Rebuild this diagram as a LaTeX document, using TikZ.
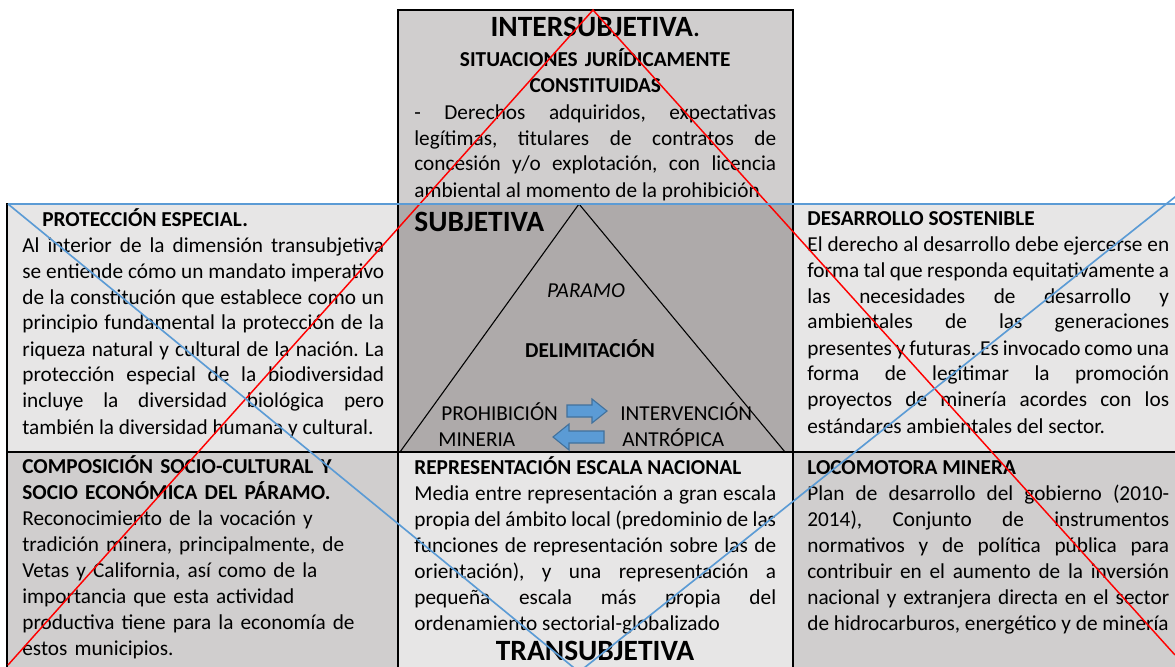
\documentclass[tikz,border=0pt]{standalone}
\usepackage{fontspec}
\setmainfont{Carlito}
\usepackage{tikz}
\frenchspacing
\definecolor{boxgray}{HTML}{D0CECE}
\definecolor{boxlight}{HTML}{E7E6E6}
\definecolor{boxdark}{HTML}{AEAAAA}
\definecolor{lineblue}{HTML}{5B9BD5}
\definecolor{arrowedge}{HTML}{41719C}
\newcommand{\bodytext}{\fontsize{11.7pt}{14.3pt}\selectfont}
\newcommand{\bigtext}{\fontsize{16.2pt}{19pt}\selectfont}
\tikzstyle{cell}=[draw=black,line width=1.1pt]
\tikzstyle{boxtext}=[anchor=base west,inner sep=0pt,text width=199pt,align=justify,font=\bodytext]
\tikzstyle{bigtitle}=[anchor=base,inner sep=0pt,font=\bigtext\bfseries]
\tikzstyle{tritext}=[anchor=base west,inner sep=0pt,font=\bodytext]
\tikzstyle{redline}=[red,line width=0.8pt]
\tikzstyle{blueline}=[lineblue,line width=0.9pt]
\tikzstyle{blockarrow}=[fill=lineblue,draw=arrowedge,line width=0.6pt]
\newcommand{\pxunit}{0.55pt}

\begin{document}
\begin{tikzpicture}[x=\pxunit,y=-\pxunit]
\useasboundingbox (0,0) rectangle (1175,667);
\clip (0,0) rectangle (1175,667);
% cells
\filldraw[cell,fill=boxgray] (398,10) rectangle (793,204);
\filldraw[cell,fill=boxlight] (7,204) rectangle (398,452);
\filldraw[cell,fill=boxdark] (398,204) rectangle (793,452);
\filldraw[cell,fill=boxlight] (793,204) rectangle (1185,452);
\filldraw[cell,fill=boxgray] (7,452) rectangle (398,680);
\filldraw[cell,fill=boxlight] (398,452) rectangle (793,680);
\filldraw[cell,fill=boxgray] (793,452) rectangle (1185,680);
% triangle
\coordinate (top) at (579,204);
\coordinate (baseL) at (400,452);
\coordinate (baseR) at (785,452);
\draw[line width=0.6pt] (top) -- (baseL) -- (baseR) -- cycle;

% top cell
\node[bigtitle] (inter) at (595.5,37) {INTERSUBJETIVA\mdseries.};
\node[boxtext,align=center,font=\bodytext\bfseries] (situaciones) at (414,67)
  {SITUACIONES JURÍDICAMENTE\\CONSTITUIDAS};
\node[boxtext] (derechos) at (414,119) {- Derechos adquiridos, expectativas\linebreak
  legítimas, titulares de contratos de\linebreak
  concesión y/o explotación, con licencia\linebreak
  ambiental al momento de la prohibición};

% middle row
\node[boxtext] (proteccion) at (22,226) {\hspace*{11pt}\textbf{PROTECCIÓN ESPECIAL.}\\
  Al interior de la dimensión transubjetiva\linebreak
  se entiende cómo un mandato imperativo\linebreak
  de la constitución que establece como un\linebreak
  principio fundamental la protección de la\linebreak
  riqueza natural y cultural de la nación. La\linebreak
  protección especial de la biodiversidad\linebreak
  incluye la diversidad biológica pero\linebreak
  también la diversidad humana y cultural.};
\node[bigtitle,anchor=base west] (subjetiva) at (414,231) {SUBJETIVA};
\node[tritext,anchor=base,font=\bodytext\itshape] (paramo) at (586,297) {PARAMO};
\node[tritext,anchor=base,font=\bodytext\bfseries] (delimitacion) at (590,357) {DELIMITACIÓN};
\node[tritext] (prohibicion) at (441,420) {PROHIBICIÓN};
\node[tritext] (mineria) at (438,446) {MINERIA};
\node[tritext] (intervencion) at (620,420) {INTERVENCIÓN};
\node[tritext] (antropica) at (622,446) {ANTRÓPICA};
\filldraw[blockarrow] (567,405) -- (592,405) -- (592,399) -- (607,411) -- (592,423)
  -- (592,417) -- (567,417) -- cycle;
\filldraw[blockarrow] (604,431) -- (569,431) -- (569,424) -- (553,437) -- (569,450)
  -- (569,443) -- (604,443) -- cycle;
\node[boxtext] (desarrollo) at (807,225) {\textbf{DESARROLLO SOSTENIBLE}\\
  El derecho al desarrollo debe ejercerse en\linebreak
  forma tal que responda equitativamente a\linebreak
  las necesidades de desarrollo y\linebreak
  ambientales de las generaciones\linebreak
  presentes y futuras. Es invocado como una\linebreak
  forma de legitimar la promoción\linebreak
  proyectos de minería acordes con los\linebreak
  estándares ambientales del sector.};

% bottom row
\node[boxtext,align=left] (composicion) at (22,473)
  {{\bfseries COMPOSICIÓN SOCIO-CULTURAL Y\\SOCIO ECONÓMICA DEL PÁRAMO.}\\
  Reconocimiento de la vocación y\\
  tradición minera, principalmente, de\\
  Vetas y California, así como de la\\
  importancia que esta actividad\\
  productiva tiene para la economía de\\
  estos municipios.};
\node[boxtext] (representacion) at (414,474) {\textbf{REPRESENTACIÓN ESCALA NACIONAL}\\
  Media entre representación a gran escala\linebreak
  propia del ámbito local (predominio de las\linebreak
  funciones de representación sobre las de\linebreak
  orientación), y una representación a\linebreak
  pequeña escala más propia del\linebreak
  ordenamiento sectorial-globalizado};
\node[bigtitle] (trans) at (595,660) {TRANSUBJETIVA};
\node[boxtext] (locomotora) at (807,474) {\textbf{LOCOMOTORA MINERA}\\
  Plan de desarrollo del gobierno (2010-\linebreak
  2014), Conjunto de instrumentos\linebreak
  normativos y de política pública para\linebreak
  contribuir en el aumento de la inversión\linebreak
  nacional y extranjera directa en el sector\linebreak
  de hidrocarburos, energético y de minería};

% crossing lines
\coordinate (redtop) at (593,10);
\coordinate (redL) at (8,665);
\coordinate (redR) at (1175,655);
\draw[redline] (redL) -- (redtop) -- (redR);
\coordinate (blueL) at (8,204);
\coordinate (blueR) at (1175,204);
\coordinate (bluebot) at (579,672);
\coordinate (blueRR) at (1180,193);
\draw[blueline] (blueL) -- (blueR);
\draw[blueline] (blueL) -- (bluebot) -- (blueRR);
\end{tikzpicture}
\end{document}
